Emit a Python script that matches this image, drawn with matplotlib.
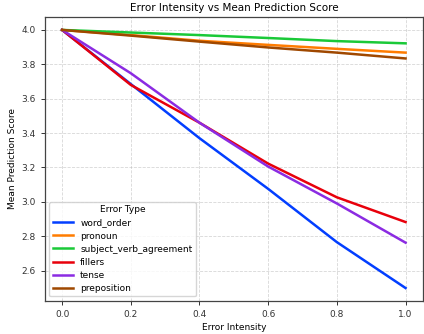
import matplotlib
matplotlib.use("Agg")
import matplotlib.pyplot as plt

intensity = [0.0, 0.2, 0.4, 0.6, 0.8, 1.0]

error_types = ["word_order", "pronoun", "subject_verb_agreement",
               "fillers", "tense", "preposition"]

word_order = [4.0, 3.685, 3.37, 3.075, 2.765, 2.498]
pronoun = [4.0, 3.97, 3.937, 3.913, 3.89, 3.868]
subject_verb_agreement = [4.0, 3.985, 3.97, 3.953, 3.935, 3.922]
fillers = [4.0, 3.68, 3.46, 3.222, 3.026, 2.882]
tense = [4.0, 3.748, 3.46, 3.205, 2.99, 2.762]
preposition = [4.0, 3.967, 3.932, 3.898, 3.868, 3.834]

series = [word_order, pronoun, subject_verb_agreement, fillers, tense, preposition]
colors = ["#023eff", "#ff7c00", "#1ac938", "#e8000b", "#8b2be2", "#9f4800"]

fig, ax = plt.subplots(figsize=(4.24, 3.34), dpi=100)

for name, values, color in zip(error_types, series, colors):
    ax.plot(intensity, values, color=color, linewidth=1.8, label=name)

ax.set_title("Error Intensity vs Mean Prediction Score", fontsize=7.5, pad=4)
ax.set_xlabel("Error Intensity", fontsize=6.5, labelpad=3)
ax.set_ylabel("Mean Prediction Score", fontsize=6.5, labelpad=3)
ax.tick_params(labelsize=6.5, width=0.7, length=3, colors="#333333")
ax.grid(True, linestyle="--", alpha=0.5, linewidth=0.6)
for spine in ax.spines.values():
    spine.set_color("#444444")
    spine.set_linewidth(0.9)

leg = ax.legend(title="Error Type", loc="lower left", fontsize=6.5,
                title_fontsize=6.5, handlelength=2.2, labelspacing=0.45)

fig.subplots_adjust(left=0.106, right=0.997, top=0.949, bottom=0.099)
fig.savefig("out.png", dpi=100)
